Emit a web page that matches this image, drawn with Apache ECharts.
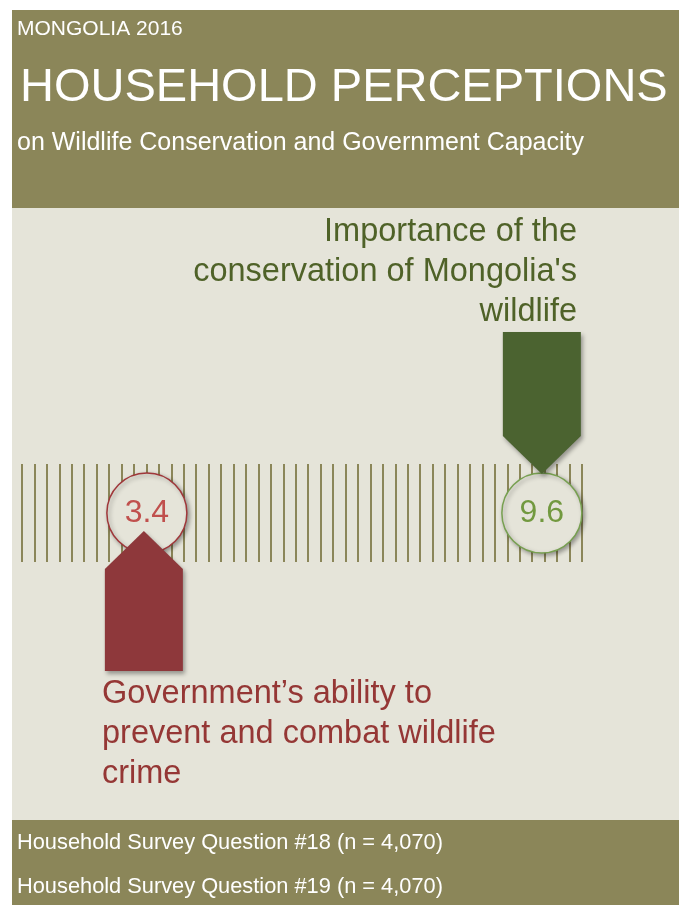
<!DOCTYPE html>
<html>
<head>
<meta charset="utf-8">
<script src="https://cdn.jsdelivr.net/npm/echarts@6/dist/echarts.min.js"></script>
<style>
  html, body { margin: 0; padding: 0; background: #fff; }
  #chart { width: 679px; height: 905px; }
</style>
</head>
<body>
<div id="chart"></div>
<script>
// 数据
const headerLines = ['MONGOLIA 2016', 'HOUSEHOLD PERCEPTIONS', 'on Wildlife Conservation and Government Capacity'];
const questions = ["Importance of the\nconservation of Mongolia's\nwildlife", 'Government\u2019s ability to\nprevent and combat wildlife\ncrime'];
const scores = [9.6, 3.4];
const surveyNotes = ['Household Survey Question #18 (n = 4,070)', 'Household Survey Question #19 (n = 4,070)'];

// 样式
const OLIVE = '#8b8659';
const PAPER = '#e5e4d9';
const markStyles = [
    { arrow: '#4b6330', ring: '#77a050', num: '#72993f', text: '#4f6228', dir: 'down' },
    { arrow: '#8e383b', ring: '#a0373a', num: '#c0504d', text: '#953735', dir: 'up' }
];
const FONT = '"Liberation Sans", Arial, sans-serif';

const chart = echarts.init(document.getElementById('chart'), null, { renderer: 'canvas' });

const points = scores.map((v, i) => ({
    value: [v, 0],
    itemStyle: { borderColor: markStyles[i].ring },
    label: { color: markStyles[i].num }
}));

// 箭头
function renderArrow(params, api) {
    const st = markStyles[params.dataIndex];
    const c = api.coord([api.value(0), api.value(1)]);
    let pts;
    if (st.dir === 'down') {
        const x = c[0];
        pts = [[x - 39, c[1] - 181], [x + 39, c[1] - 181], [x + 39, c[1] - 77], [x, c[1] - 39], [x - 39, c[1] - 77]];
    } else {
        const x = c[0] - 3;
        pts = [[x, c[1] + 18], [x + 39, c[1] + 56], [x + 39, c[1] + 158], [x - 39, c[1] + 158], [x - 39, c[1] + 56]];
    }
    return {
        type: 'polygon',
        shape: { points: pts },
        style: {
            fill: st.arrow,
            shadowBlur: 4,
            shadowOffsetX: 2,
            shadowOffsetY: 3,
            shadowColor: 'rgba(0,0,0,0.35)'
        }
    };
}

const graphics = [
    { type: 'rect', shape: { x: 12, y: 10, width: 667, height: 198 }, style: { fill: OLIVE }, z: -10 },
    { type: 'rect', shape: { x: 12, y: 208, width: 667, height: 612 }, style: { fill: PAPER }, z: -10 },
    { type: 'rect', shape: { x: 12, y: 820, width: 667, height: 85 }, style: { fill: OLIVE }, z: -10 },
    { type: 'text', x: 17, y: 29, style: { text: headerLines[0], fill: '#fff', font: '21px ' + FONT, textVerticalAlign: 'middle' } },
    { type: 'text', x: 20, y: 88, style: { text: headerLines[1], fill: '#fff', font: '47px ' + FONT, textVerticalAlign: 'middle' } },
    { type: 'text', x: 17, y: 143, style: { text: headerLines[2], fill: '#fff', font: '25px ' + FONT, textVerticalAlign: 'middle' } },
    { type: 'text', x: 577, y: 212, style: { text: questions[0], fill: markStyles[0].text, font: '32.5px ' + FONT, textAlign: 'right', lineHeight: 40 } },
    { type: 'text', x: 102, y: 674, style: { text: questions[1], fill: markStyles[1].text, font: '32.5px ' + FONT, textAlign: 'left', lineHeight: 40 } },
    { type: 'text', x: 17, y: 843, style: { text: surveyNotes[0], fill: '#fff', font: '21.8px ' + FONT, textVerticalAlign: 'middle' } },
    { type: 'text', x: 17, y: 887, style: { text: surveyNotes[1], fill: '#fff', font: '21.8px ' + FONT, textVerticalAlign: 'middle' } }
];

const option = {
    backgroundColor: '#fff',
    animation: false,
    graphic: graphics,
    grid: { left: 22, right: 97, top: 464, height: 98 },
    xAxis: [
        { type: 'value', min: 1.44, max: 10.23, show: false },
        {
            type: 'value', min: 0, max: 45, interval: 1,
            axisLine: { show: false }, axisTick: { show: false }, axisLabel: { show: false },
            splitLine: { show: true, lineStyle: { color: OLIVE, width: 2 } }
        }
    ],
    yAxis: { type: 'value', min: -1, max: 1, show: false },
    series: [
        {
            type: 'scatter',
            xAxisIndex: 0,
            symbol: 'circle',
            symbolSize: 80,
            z: 3,
            itemStyle: {
                color: PAPER,
                opacity: 1,
                borderWidth: 1.5,
                shadowBlur: 4,
                shadowOffsetX: 2,
                shadowOffsetY: 2,
                shadowColor: 'rgba(0,0,0,0.35)'
            },
            label: {
                show: true,
                position: 'inside',
                fontSize: 32,
                fontFamily: FONT,
                formatter: (p) => p.value[0].toFixed(1)
            },
            data: points
        },
        {
            type: 'custom',
            xAxisIndex: 0,
            z: 4,
            renderItem: renderArrow,
            encode: { x: 0, y: 1 },
            data: scores.map((v) => [v, 0])
        }
    ]
};

chart.setOption(option);
</script>
</body>
</html>
